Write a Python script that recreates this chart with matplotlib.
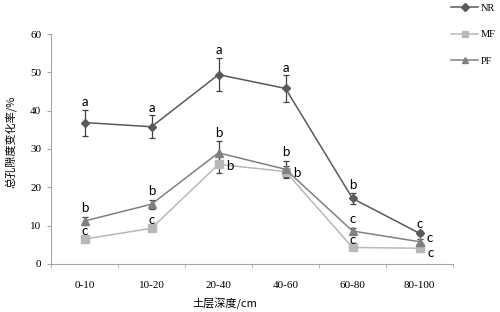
import numpy as np
import matplotlib.pyplot as plt
from matplotlib.lines import Line2D

plt.rcParams['font.family'] = ['Liberation Serif', 'Noto Sans CJK SC']

# data
depths = ['0-10', '10-20', '20-40', '40-60', '60-80', '80-100']
nr = [36.9, 35.8, 49.4, 45.8, 17.1, 8.0]
nr_err = [3.4, 3.0, 4.4, 3.5, 1.5, 0.5]
mf = [6.5, 9.3, 26.0, 24.1, 4.3, 4.1]
mf_err = [0.5, 0.6, 2.2, 1.5, 0.4, 0.4]
pf = [11.2, 15.6, 29.0, 24.7, 8.6, 5.8]
pf_err = [1.0, 1.2, 3.0, 2.2, 0.9, 0.6]

nr_letters = ['a', 'a', 'a', 'a', 'b', 'c']
mf_letters = ['c', 'c', 'b', 'b', 'c', 'c']
pf_letters = ['b', 'b', 'b', 'b', 'c', 'c']

x = np.arange(1, len(depths) + 1)

fig = plt.figure(figsize=(5, 3.12), dpi=100)
ax = fig.add_axes([0.102, 0.154, 0.804, 0.737])

c_nr, c_mf, c_pf = '#595959', '#b8b8b8', '#808080'
ecol = '#404040'
ekw = dict(ecolor=ecol, elinewidth=0.9, capsize=2.5, capthick=0.9, lw=1.1)

ax.errorbar(x, nr, yerr=nr_err, color=c_nr, marker='D', ms=4.5, zorder=3, **ekw)
ax.errorbar(x, mf, yerr=mf_err, color=c_mf, marker='s', ms=5.5, zorder=2, **ekw)
ax.errorbar(x, pf, yerr=pf_err, color=c_pf, marker='^', ms=5.5, zorder=2, **ekw)

# significance letters
lkw = dict(textcoords='offset points', fontsize=9.5, family='Lato', ha='center')
for i in range(len(x)):
    ax.annotate(nr_letters[i], (x[i], nr[i] + nr_err[i]), xytext=(0, 1), va='bottom', **lkw)

# above the error bar, or to the right of the marker (last point)
for i in range(len(x)):
    if i == 5:
        ax.annotate(pf_letters[i], (x[i], pf[i]), xytext=(7, 2.5), va='center', **lkw)
    else:
        ax.annotate(pf_letters[i], (x[i], pf[i] + pf_err[i]), xytext=(0, 2), va='bottom', **lkw)

for i in range(len(x)):
    if i in (2, 3):
        ax.annotate(mf_letters[i], (x[i], mf[i]), xytext=(8, -1), va='center', **lkw)
    elif i == 5:
        ax.annotate(mf_letters[i], (x[i], mf[i]), xytext=(8, -3.5), va='center', **lkw)
    else:
        ax.annotate(mf_letters[i], (x[i], mf[i] + mf_err[i]), xytext=(0, 0), va='bottom', **lkw)

ax.set_xlim(0.5, 6.5)
ax.set_ylim(0, 60)
ax.set_yticks(np.arange(0, 61, 10))
ax.set_xticks(x)
ax.set_xticklabels(depths)
ax.set_xticks(np.arange(0.5, 6.6, 1), minor=True)
ax.tick_params(axis='x', which='major', length=0, pad=12, labelsize=8)
ax.tick_params(axis='x', which='minor', length=3, direction='out', color='#a6a6a6')
ax.tick_params(axis='y', length=3, color='#a6a6a6', labelsize=8, pad=4)

for s in ['top', 'right']:
    ax.spines[s].set_visible(False)
for s in ['left', 'bottom']:
    ax.spines[s].set_color('#a6a6a6')

ax.set_ylabel('总孔隙度变化率/%', fontsize=8, family=['Noto Sans CJK SC'])
ax.yaxis.set_label_coords(-0.085, 0.53)
ax.set_xlabel('土层深度/cm', fontsize=8, family=['Noto Sans CJK SC'])
ax.xaxis.set_label_coords(0.432, -0.145)

handles = [
    Line2D([], [], color=c_nr, marker='D', ms=4, lw=1.1),
    Line2D([], [], color=c_mf, marker='s', ms=5, lw=1.1),
    Line2D([], [], color=c_pf, marker='^', ms=5, lw=1.1),
]
fig.legend(handles, ['NR', 'MF', 'PF'], loc='upper left', bbox_to_anchor=(0.895, 1.0),
           frameon=False, fontsize=7.5, labelspacing=1.65, handlelength=2.6,
           handletextpad=0.2, borderpad=0.35, borderaxespad=0)

fig.savefig('out.png', dpi=100)
